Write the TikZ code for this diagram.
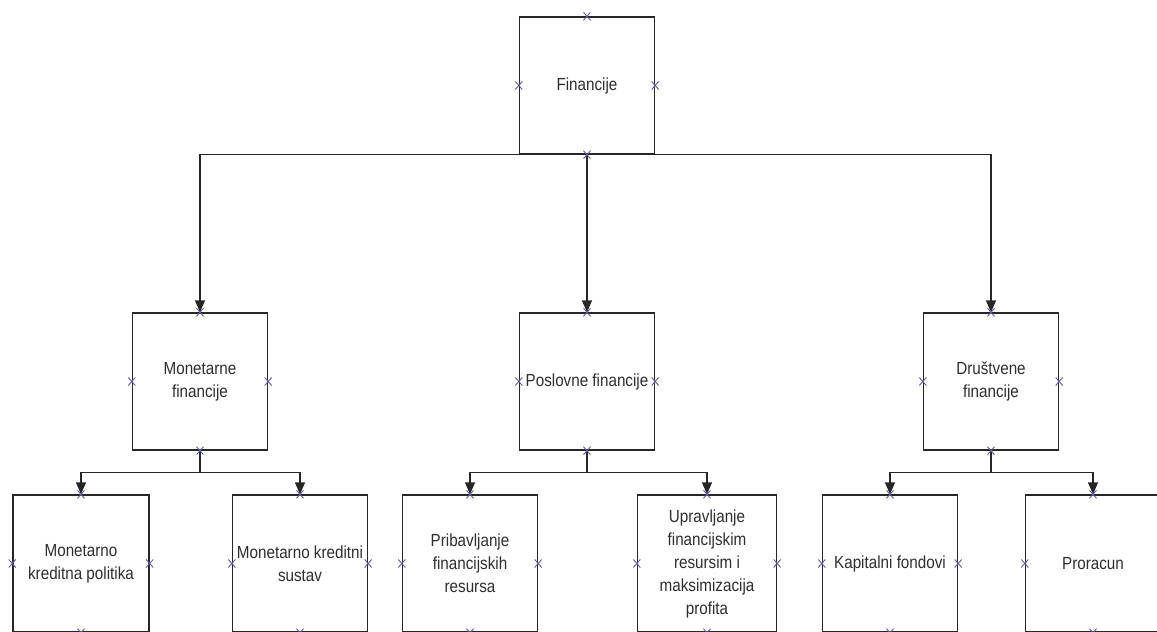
\documentclass[tikz,border=0pt]{standalone}
\usepackage{fontspec}
\setmainfont{Liberation Sans}[FakeStretch=0.87]
\usetikzlibrary{arrows.meta}
\definecolor{markblue}{HTML}{5E5EA0}
\definecolor{textgray}{HTML}{2E2E2E}
\begin{document}
\begin{tikzpicture}[x=1pt,y=-1pt,font=\fontsize{17.5}{23}\selectfont]
      \tikzstyle{box}=[draw=black!85,line width=1.4pt,rectangle,minimum width=135pt,minimum height=137pt,align=center,text=textgray,inner sep=2pt]
      \tikzstyle{link}=[draw=black!85,line width=1.4pt,-{Triangle[length=12pt,width=10pt]}]
      \tikzstyle{pinmark}=[draw=markblue,line width=0.9pt]
      \useasboundingbox (0,0) rectangle (1157,632);

      % top
      \node(fin)[box] at (587,85.5){Financije};
      % middle row
      \node(mon)[box] at (200,381.5){Monetarne\\financije};
      \node(pos)[box] at (587,381.5){Poslovne financije};
      \node(dru)[box] at (991,381.5){Društvene\\financije};
      % bottom row
      \node(mkp)[box,minimum width=136pt] at (81,563.5){Monetarno\\kreditna politika};
      \node(mks)[box] at (300,563.5){Monetarno kreditni\\sustav};
      \node(pfr)[box] at (470,563.5){Pribavljanje\\financijskih\\resursa};
      \node(ufr)[box,minimum width=139pt] at (707,563.5){Upravljanje\\financijskim\\resursim i\\maksimizacija\\profita};
      \node(kap)[box] at (890,563.5){Kapitalni fondovi};
      \node(pro)[box] at (1093,563.5){Proracun};

      \draw[link] (fin.south) -| (mon.north);
      \draw[link] (fin.south) -- (pos.north);
      \draw[link] (fin.south) -| (dru.north);
      \foreach \p/\a/\b in {mon/mkp/mks,pos/pfr/ufr,dru/kap/pro}{
          \draw[link] (\p.south) -- ++(0,22) -| (\a.north);
          \draw[link] (\p.south) -- ++(0,22) -| (\b.north);
      }

      % connection points
      \foreach \n in {fin,mon,pos,dru,mkp,mks,pfr,ufr,kap,pro}
          \foreach \s in {north,south,east,west}
              \draw[pinmark] (\n.\s) +(-3.5,-4) -- +(3.5,4) +(-3.5,4) -- +(3.5,-4);
\end{tikzpicture}
\end{document}
